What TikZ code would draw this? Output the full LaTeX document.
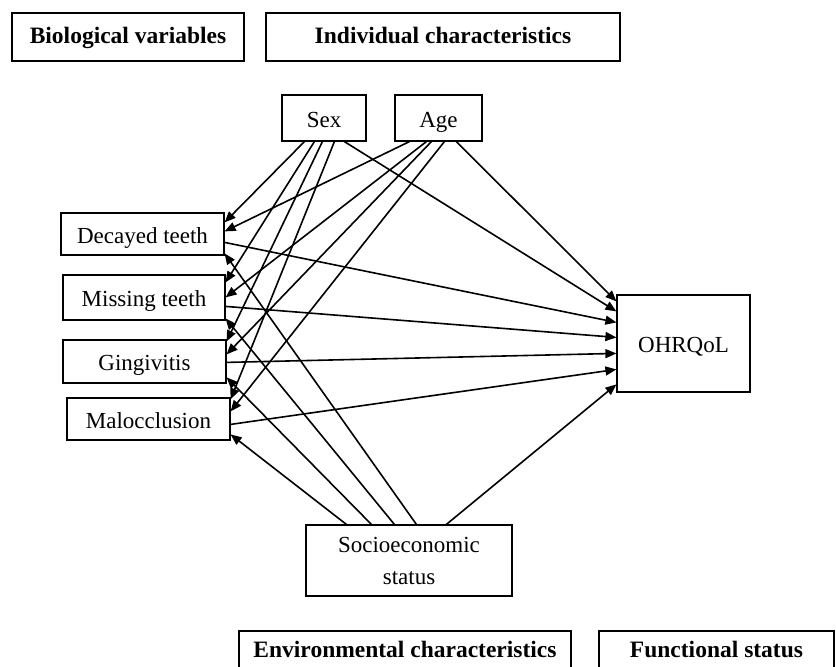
\documentclass[tikz,border=0pt]{standalone}
\usepackage{fontspec}
\setmainfont{Liberation Serif}
\usetikzlibrary{arrows.meta,calc}
\begin{document}
\begin{tikzpicture}[x=1pt,y=-1pt,
  box/.style={draw,line width=1.2pt,inner sep=0pt,text height=19pt,text depth=1pt,font=\fontsize{23}{32}\selectfont},
  hbox/.style={draw,line width=1.2pt,inner sep=0pt,text height=16pt,text depth=4pt,font=\fontsize{23.5}{27}\selectfont\bfseries},
  arr/.style={line width=1.6pt,-{Triangle[length=11pt,width=9pt]}},
]
\useasboundingbox (0,0) rectangle (836,667);
% headers
\node[hbox,minimum width=232,minimum height=48] (bio) at (128,37) {Biological variables};
\node[hbox,minimum width=354,minimum height=48] (ind) at (443,37) {Individual characteristics};
\node[hbox,minimum width=332,minimum height=40] (env) at (405,651) {Environmental characteristics};
\node[hbox,minimum width=235,minimum height=40] (fun) at (716.5,651) {Functional status};
% variables
\node[box,minimum width=84,minimum height=46] (sex) at (324,118) {Sex};
\node[box,minimum width=87,minimum height=46] (age) at (438.5,118) {Age};
\node[box,minimum width=163,minimum height=42] (dec) at (142.5,234) {Decayed teeth};
\node[box,minimum width=162,minimum height=45] (mis) at (144,297.5) {Missing teeth};
\node[box,minimum width=163,minimum height=43] (gin) at (144.5,361.5) {Gingivitis};
\node[box,minimum width=163,minimum height=42] (mal) at (148.5,419) {Malocclusion};
\node[box,minimum width=133,minimum height=97] (ohr) at (683.5,343.5) {OHRQoL};
\node[draw,line width=1.2pt,inner sep=0pt,font=\fontsize{23}{32}\selectfont,minimum width=206,minimum height=71,align=center] (ses) at (409,560.5) {Socioeconomic\\status};
% from Sex
\draw[arr] ($(sex.south west)+(23,0)$) -- ($(dec.north east)+(0,10)$);
\draw[arr] ($(sex.south west)+(33,0)$) -- ($(mis.north east)+(0,8)$);
\draw[arr] ($(sex.south west)+(41,0)$) -- ($(gin.north east)+(0,2)$);
\draw[arr] ($(sex.south west)+(53,0)$) -- ($(mal.north east)+(0,2)$);
\draw[arr] ($(sex.south west)+(63,0)$) -- ($(ohr.north west)+(0,17)$);
% from Age
\draw[arr] ($(age.south west)+(15,0)$) -- ($(dec.north east)+(0,19)$);
\draw[arr] ($(age.south west)+(32,0)$) -- ($(mis.north east)+(0,23)$);
\draw[arr] ($(age.south west)+(37,0)$) -- ($(gin.north east)+(0,15)$);
\draw[arr] ($(age.south west)+(50,0)$) -- ($(mal.north east)+(0,14)$);
\draw[arr] ($(age.south west)+(62,0)$) -- ($(ohr.north west)+(0,7)$);
% biological to OHRQoL
\draw[arr] ($(dec.north east)+(0,30)$) -- ($(ohr.north west)+(0,28)$);
\draw[arr] ($(mis.north east)+(0,32)$) -- ($(ohr.north west)+(0,43)$);
\draw[arr] ($(gin.north east)+(0,23)$) -- ($(ohr.north west)+(0,59)$);
\draw[arr] ($(mal.north east)+(0,27)$) -- ($(ohr.north west)+(0,75)$);
% from SES
\draw[arr] ($(ses.north west)+(41,0)$) -- ($(mal.north east)+(0,37)$);
\draw[arr] ($(ses.north west)+(66,0)$) -- ($(gin.north east)+(0,38)$);
\draw[arr] ($(ses.north west)+(89,0)$) -- ($(mis.north east)+(0,44)$);
\draw[arr] ($(ses.north west)+(111,0)$) -- ($(dec.north east)+(0,41)$);
\draw[arr] ($(ses.north west)+(141,0)$) -- ($(ohr.north west)+(0,90)$);
\end{tikzpicture}
\end{document}
